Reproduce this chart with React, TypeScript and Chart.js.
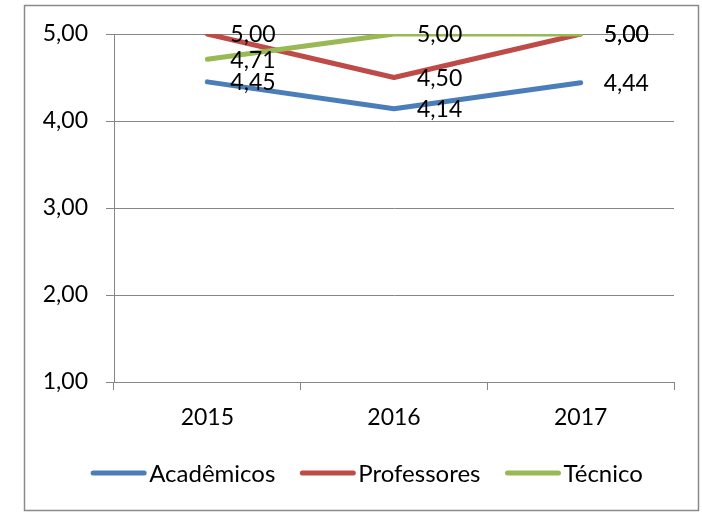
import React, { useEffect, useRef } from "react";
import { Chart, registerables } from "chart.js";

Chart.register(...registerables);

const categories = ["2015", "2016", "2017"];
const academicos = [4.45, 4.14, 4.44];
const professores = [5.0, 4.5, 5.0];
const tecnico = [4.71, 5.0, 5.0];
const seriesNames = ["Acadêmicos", "Professores", "Técnico"];
const seriesColors = ["#4A7EBB", "#BE4B48", "#98B954"];
const yMin = 1;
const yMax = 5;
const yStep = 1;

const FONT_FAMILY = "Lato, 'Open Sans', sans-serif";
const FONT_SIZE = 23;
const LEGEND_FONT_SIZE = 24;
const GRID = "#868686";

const fmt = (v: number) => v.toFixed(2).replace(".", ",");

const framePlugin = {
  id: "frame",
  beforeDraw(chart: any) {
    const ctx = chart.ctx;
    ctx.save();
    ctx.fillStyle = "#ffffff";
    ctx.fillRect(0, 0, chart.width, chart.height);
    ctx.strokeStyle = "#8a8a8a";
    ctx.lineWidth = 1.5;
    ctx.strokeRect(24.5, 5.5, 674, 505);
    ctx.restore();
  },
};

const labelPlugin = {
  id: "pointLabels",
  afterDatasetsDraw(chart: any) {
    const ctx = chart.ctx;
    ctx.save();
    ctx.font = `${FONT_SIZE}px ${FONT_FAMILY}`;
    ctx.fillStyle = "#000000";
    ctx.textAlign = "left";
    ctx.textBaseline = "middle";
    chart.data.datasets.forEach((ds: any, i: number) => {
      const meta = chart.getDatasetMeta(i);
      meta.data.forEach((el: any, j: number) => {
        ctx.fillText(fmt(ds.data[j]), el.x + 23, el.y + 1);
      });
    });
    ctx.restore();
  },
};

const legendPlugin = {
  id: "customLegend",
  afterDraw(chart: any) {
    const ctx = chart.ctx;
    ctx.save();
    ctx.font = `${LEGEND_FONT_SIZE}px ${FONT_FAMILY}`;
    const lineW = 55;
    const gapText = 3;
    const gapItem = 25;
    const y = 473;
    const widths = seriesNames.map((n) => lineW + gapText + ctx.measureText(n).width);
    const total = widths.reduce((a, b) => a + b, 0) + gapItem * (widths.length - 1);
    let x = 367 - total / 2;
    seriesNames.forEach((n, i) => {
      ctx.strokeStyle = seriesColors[i];
      ctx.lineWidth = 5;
      ctx.lineCap = "round";
      ctx.beginPath();
      ctx.moveTo(x + 2, y);
      ctx.lineTo(x + lineW - 2, y);
      ctx.stroke();
      ctx.fillStyle = "#000000";
      ctx.textAlign = "left";
      ctx.textBaseline = "middle";
      ctx.fillText(n, x + lineW + gapText, y + 1);
      x += widths[i] + gapItem;
    });
    ctx.restore();
  },
};

export default function App() {
  const ref = useRef<HTMLCanvasElement | null>(null);
  useEffect(() => {
    if (!ref.current) return;
    const mk = (label: string, data: number[], color: string) => ({
      label,
      data,
      borderColor: color,
      backgroundColor: color,
      borderWidth: 5,
      borderCapStyle: "round" as const,
      borderJoinStyle: "round" as const,
      pointRadius: 0,
      tension: 0,
      fill: false,
    });
    const chart = new Chart(ref.current, {
      type: "line",
      data: {
        labels: categories,
        datasets: [
          mk(seriesNames[2], tecnico, seriesColors[2]),
          mk(seriesNames[1], professores, seriesColors[1]),
          mk(seriesNames[0], academicos, seriesColors[0]),
        ],
      },
      options: {
        responsive: false,
        animation: false,
        layout: { padding: { left: 0, top: 34, right: 28, bottom: 0 } },
        plugins: {
          legend: { display: false },
          tooltip: { enabled: false },
        },
        scales: {
          x: {
            type: "category",
            offset: true,
            grid: {
              display: true,
              drawOnChartArea: false,
              drawTicks: true,
              tickLength: 8,
              color: GRID,
              offset: true,
            },
            border: { display: true, color: GRID, width: 1 },
            ticks: {
              color: "#000000",
              font: { family: FONT_FAMILY, size: FONT_SIZE },
              padding: 14,
              maxRotation: 0,
            },
            afterFit(scale: any) {
              scale.height = 130;
            },
          },
          y: {
            type: "linear",
            min: yMin,
            max: yMax,
            ticks: {
              stepSize: yStep,
              color: "#000000",
              font: { family: FONT_FAMILY, size: FONT_SIZE },
              padding: 18,
              callback: (v: any) => fmt(Number(v)),
            },
            grid: { color: GRID, tickLength: 8, lineWidth: 1 },
            border: { display: true, color: GRID, width: 1 },
            afterFit(scale: any) {
              scale.width = 114;
            },
          },
        },
      },
      plugins: [framePlugin, labelPlugin, legendPlugin],
    });
    return () => chart.destroy();
  }, []);
  return (
    <div style={{ position: "absolute", left: 0, top: 0, width: 702, height: 512 }}>
      <canvas ref={ref} width={702} height={512} />
    </div>
  );
}
